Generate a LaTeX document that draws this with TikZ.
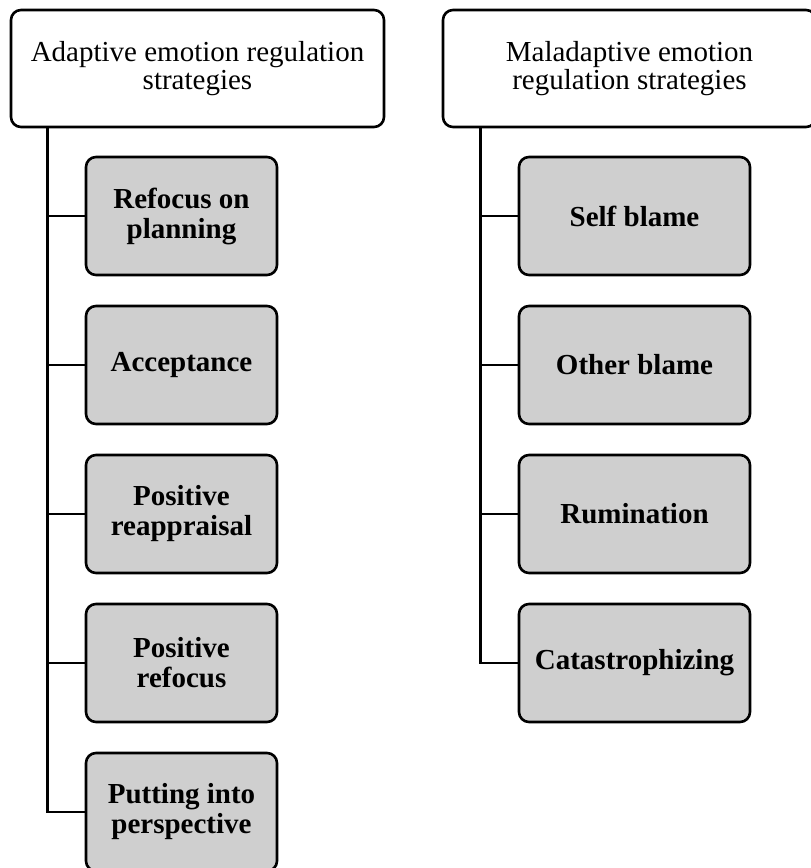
\documentclass[tikz,border=0pt]{standalone}
\usepackage{fontspec}
\setmainfont{Liberation Serif}
\usepackage{xcolor}
\usepackage{tikz}
\usetikzlibrary{shapes.geometric, arrows}
\definecolor{leafgray}{RGB}{207,207,207}
\tikzstyle{headbox} = [rectangle, rounded corners=10pt, minimum width=373pt, minimum height=117pt, draw=black, line width=2.6pt, fill=white, align=center, font=\fontsize{29}{28}\selectfont]
\tikzstyle{leafbox} = [rectangle, rounded corners=10pt, minimum width=191pt, minimum height=118pt, draw=black, line width=2.6pt, fill=leafgray, align=center, font=\fontsize{29}{30}\selectfont\bfseries]
\tikzstyle{wideleaf} = [leafbox, minimum width=231pt]
\tikzstyle{link} = [line width=2.6pt]

\begin{document}
\begin{tikzpicture}[x=1pt, y=1pt, node distance=149pt]
			\useasboundingbox (0,0) rectangle (811,868);
			\clip (0,0) rectangle (811,868);
			% headers
			\node (adapt) [headbox] at (197.5,799.5) {Adaptive emotion regulation\\strategies};
			\node (malad) [headbox] at (629.5,799.5) {Maladaptive emotion\\regulation strategies};
			% adaptive strategies
			\node (refocus) [leafbox] at (181.5,652) {Refocus on\\planning};
			\node (accept) [leafbox, below of=refocus] {Acceptance};
			\node (reapp) [leafbox, below of=accept] {Positive\\reappraisal};
			\node (posref) [leafbox, below of=reapp] {Positive\\refocus};
			\node (persp) [leafbox, below of=posref] {Putting into\\perspective};
			% maladaptive strategies
			\node (self) [wideleaf] at (634.5,652) {Self blame};
			\node (other) [wideleaf, below of=self] {Other blame};
			\node (rumin) [wideleaf, below of=other] {Rumination};
			\node (catas) [wideleaf, below of=rumin] {Catastrophizing};
			% trunks
			\coordinate (atrunk) at ([xshift=38pt]adapt.south west);
			\coordinate (mtrunk) at ([xshift=39pt]malad.south west);
			\foreach \n in {refocus,accept,reapp,posref,persp}
				\draw [link] (atrunk) |- (\n.west);
			\foreach \n in {self,other,rumin,catas}
				\draw [link] (mtrunk) |- (\n.west);
		\end{tikzpicture}
\end{document}
